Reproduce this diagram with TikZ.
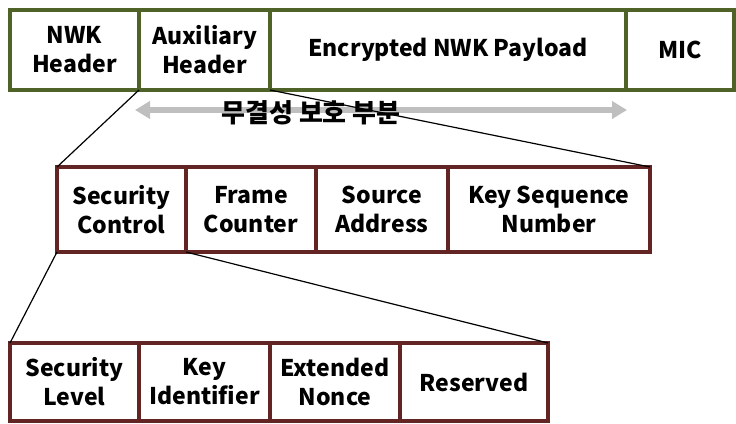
\documentclass[tikz,border=0pt]{standalone}
\usepackage{fontspec}
\setmainfont{Noto Sans CJK KR}
\usetikzlibrary{arrows.meta,positioning}
\definecolor{framegreen}{HTML}{4F6228}
\definecolor{secred}{HTML}{632523}
\definecolor{spangray}{HTML}{BFBFBF}

\begin{document}
\begin{tikzpicture}[
    x=1pt, y=-1pt,
    node distance=0pt and 0pt,
    field/.style={draw, line width=3.5pt, outer sep=0pt, inner sep=0pt,
      align=center, font=\fontsize{23}{29}\selectfont\bfseries},
    nwkfield/.style={field, draw=framegreen, minimum height=80pt},
    secfield/.style={field, draw=secred, minimum height=85pt},
    zoomline/.style={black, line width=1.2pt},
    span/.style={{Triangle[length=15pt,width=17pt]}-{Triangle[length=15pt,width=17pt]},
      line width=6pt, spangray}
  ]
    \useasboundingbox (0,0) rectangle (736,423);
    \clip (0,0) rectangle (736,423);
    % NWK frame
    \node[nwkfield, minimum width=129pt, anchor=north west] (nwkhdr) at (10,10) {NWK\\Header};
    \node[nwkfield, minimum width=131pt, right=of nwkhdr] (auxhdr) {Auxiliary\\Header};
    \node[nwkfield, minimum width=356pt, right=of auxhdr] (payload) {Encrypted NWK Payload};
    \node[nwkfield, minimum width=108pt, right=of payload] (mic) {MIC};
    % auxiliary header
    \node[secfield, minimum width=129pt, anchor=north west] (secctl) at (57,167) {Security\\Control};
    \node[secfield, minimum width=130pt, right=of secctl] (framecnt) {Frame\\Counter};
    \node[secfield, minimum width=132pt, right=of framecnt] (srcaddr) {Source\\Address};
    \node[secfield, minimum width=202pt, right=of srcaddr] (keyseq) {Key Sequence\\Number};
    % security control
    \node[secfield, minimum height=78pt, minimum width=129pt, anchor=north west] (seclevel) at (10,343) {Security\\Level};
    \node[secfield, minimum height=78pt, minimum width=131pt, right=of seclevel] (keyid) {Key\\Identifier};
    \node[secfield, minimum height=78pt, minimum width=130pt, right=of keyid] (extnonce) {Extended\\Nonce};
    \node[secfield, minimum height=78pt, minimum width=148pt, right=of extnonce] (reserved) {Reserved};
    % integrity span
    \draw[span] ([shift={(-4,20)}]auxhdr.south west) -- ([shift={(1,20)}]mic.south west);
    \node[font=\fontsize{26}{30}\selectfont\bfseries] (integrity) at (311,113) {무결성 보호 부분};
    \draw[zoomline] (auxhdr.south west) -- (secctl.north west);
    \draw[zoomline] (auxhdr.south east) -- (keyseq.north east);
    \draw[zoomline] (secctl.south west) -- (seclevel.north west);
    \draw[zoomline] (secctl.south east) -- (reserved.north east);
\end{tikzpicture}
\end{document}
